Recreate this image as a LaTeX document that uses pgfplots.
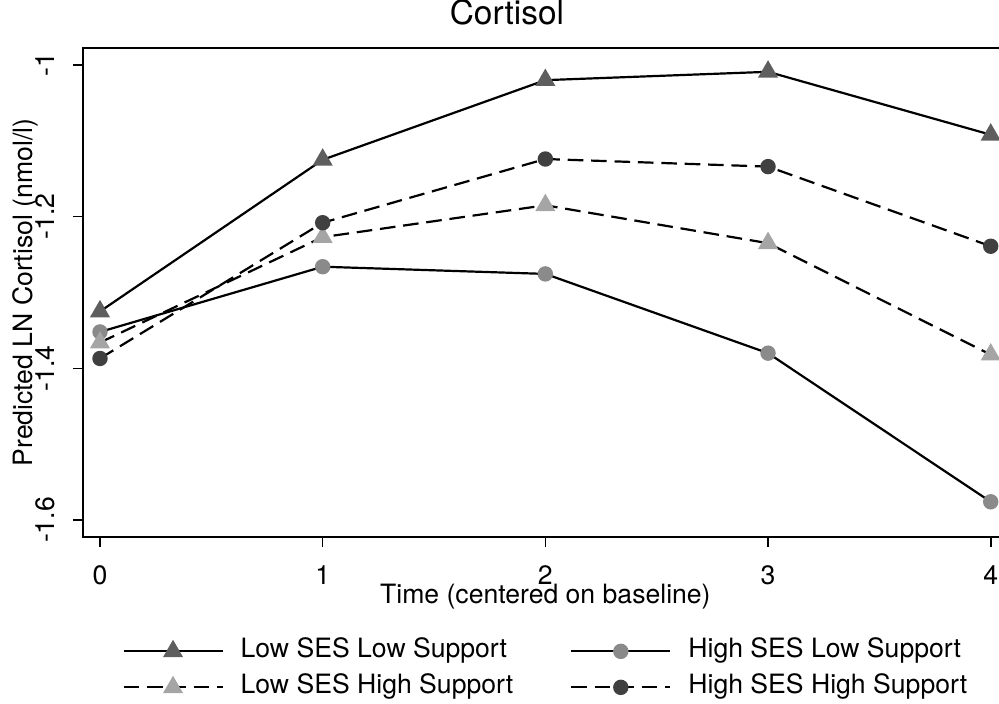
\documentclass[border=0pt]{standalone}
\usepackage{fontspec}
\setmainfont{TeX Gyre Heros}
\usepackage{pgfplots}
\pgfplotsset{compat=1.18}
\definecolor{cLL}{HTML}{5E5E5E}
\definecolor{cHL}{HTML}{8A8A8A}
\definecolor{cLH}{HTML}{A5A5A5}
\definecolor{cHH}{HTML}{404040}
\begin{document}
\begin{tikzpicture}
\path[use as bounding box] (-41.5pt,-83.5pt) rectangle (458pt,268.5pt);
\begin{axis}[
  at={(0pt,0pt)}, anchor=south west,
  scale only axis, width=462.35pt, height=244.5pt,
  xmin=-0.0763, xmax=4.0763, ymin=-1.6224, ymax=-0.9776,
  xtick={0,1,2,3,4}, xticklabels={0,1,2,3,4},
  ytick={-1.6,-1.4,-1.2,-1}, yticklabels={-1.6,-1.4,-1.2,-1},
  /pgf/number format/assume math mode=true,
  tick align=outside, xtick pos=left, ytick pos=left,
  major tick length=5pt,
  axis line style={line width=0.8pt},
  every tick/.style={black, line width=0.8pt},
  tick label style={font=\fontsize{13.3}{16}\selectfont, inner sep=0pt},
  xticklabel style={anchor=base, yshift=-19pt},
  yticklabel style={xshift=-9pt, rotate=90, anchor=base},
  title={Cortisol},
  title style={font=\fontsize{16.7}{20}\selectfont, at={(axis description cs:0.4585,1.0225)}, anchor=base, inner sep=0pt},
  xlabel={Time (centered on baseline)},
  xlabel style={font=\fontsize{13.3}{16}\selectfont, at={(axis description cs:0.5,-0.136)}, anchor=base, inner sep=0pt},
  ylabel={Predicted LN Cortisol (nmol/l)},
  ylabel style={font=\fontsize{13.3}{16}\selectfont, at={(axis description cs:-0.0541,0.5)}, anchor=base, inner sep=0pt},
  legend columns=2,
  legend cell align=left,
  legend image code/.code={\draw[mark repeat=2,mark phase=2] plot coordinates {(0pt,0pt) (24.75pt,0pt) (49.5pt,0pt)};},
  legend style={draw=none, fill=none, inner sep=0pt, font=\fontsize{13.3}{16}\selectfont,
    at={(axis description cs:0.0422,-0.2085)}, anchor=north west,
    row sep=6pt,
    nodes={inner sep=0pt, text height=9.3pt, text depth=2.7pt},
    /tikz/every odd column/.append style={column sep=8.5pt},
    /tikz/every even column/.append style={column sep=28.5pt}},
]
\addplot[black, line width=1.1pt, mark=triangle*, mark size=4.7pt, mark options={solid, draw=cLL, fill=cLL}]
  coordinates {(0,-1.325) (1,-1.125) (2,-1.020) (3,-1.009) (4,-1.092)};
\addlegendentry{Low SES Low Support}
\addplot[black, line width=1.1pt, mark=*, mark size=3.3pt, mark options={solid, draw=cHL, fill=cHL}]
  coordinates {(0,-1.352) (1,-1.266) (2,-1.2755) (3,-1.380) (4,-1.576)};
\addlegendentry{High SES Low Support}
\addplot[black, line width=1.1pt, dash pattern=on 7.8pt off 3.9pt, mark=triangle*, mark size=4.7pt, mark options={solid, draw=cLH, fill=cLH}]
  coordinates {(0,-1.366) (1,-1.227) (2,-1.185) (3,-1.235) (4,-1.382)};
\addlegendentry{Low SES High Support}
\addplot[black, line width=1.1pt, dash pattern=on 7.8pt off 3.9pt, mark=*, mark size=3.3pt, mark options={solid, draw=cHH, fill=cHH}]
  coordinates {(0,-1.387) (1,-1.208) (2,-1.124) (3,-1.134) (4,-1.239)};
\addlegendentry{High SES High Support}
\end{axis}
\end{tikzpicture}
\end{document}
